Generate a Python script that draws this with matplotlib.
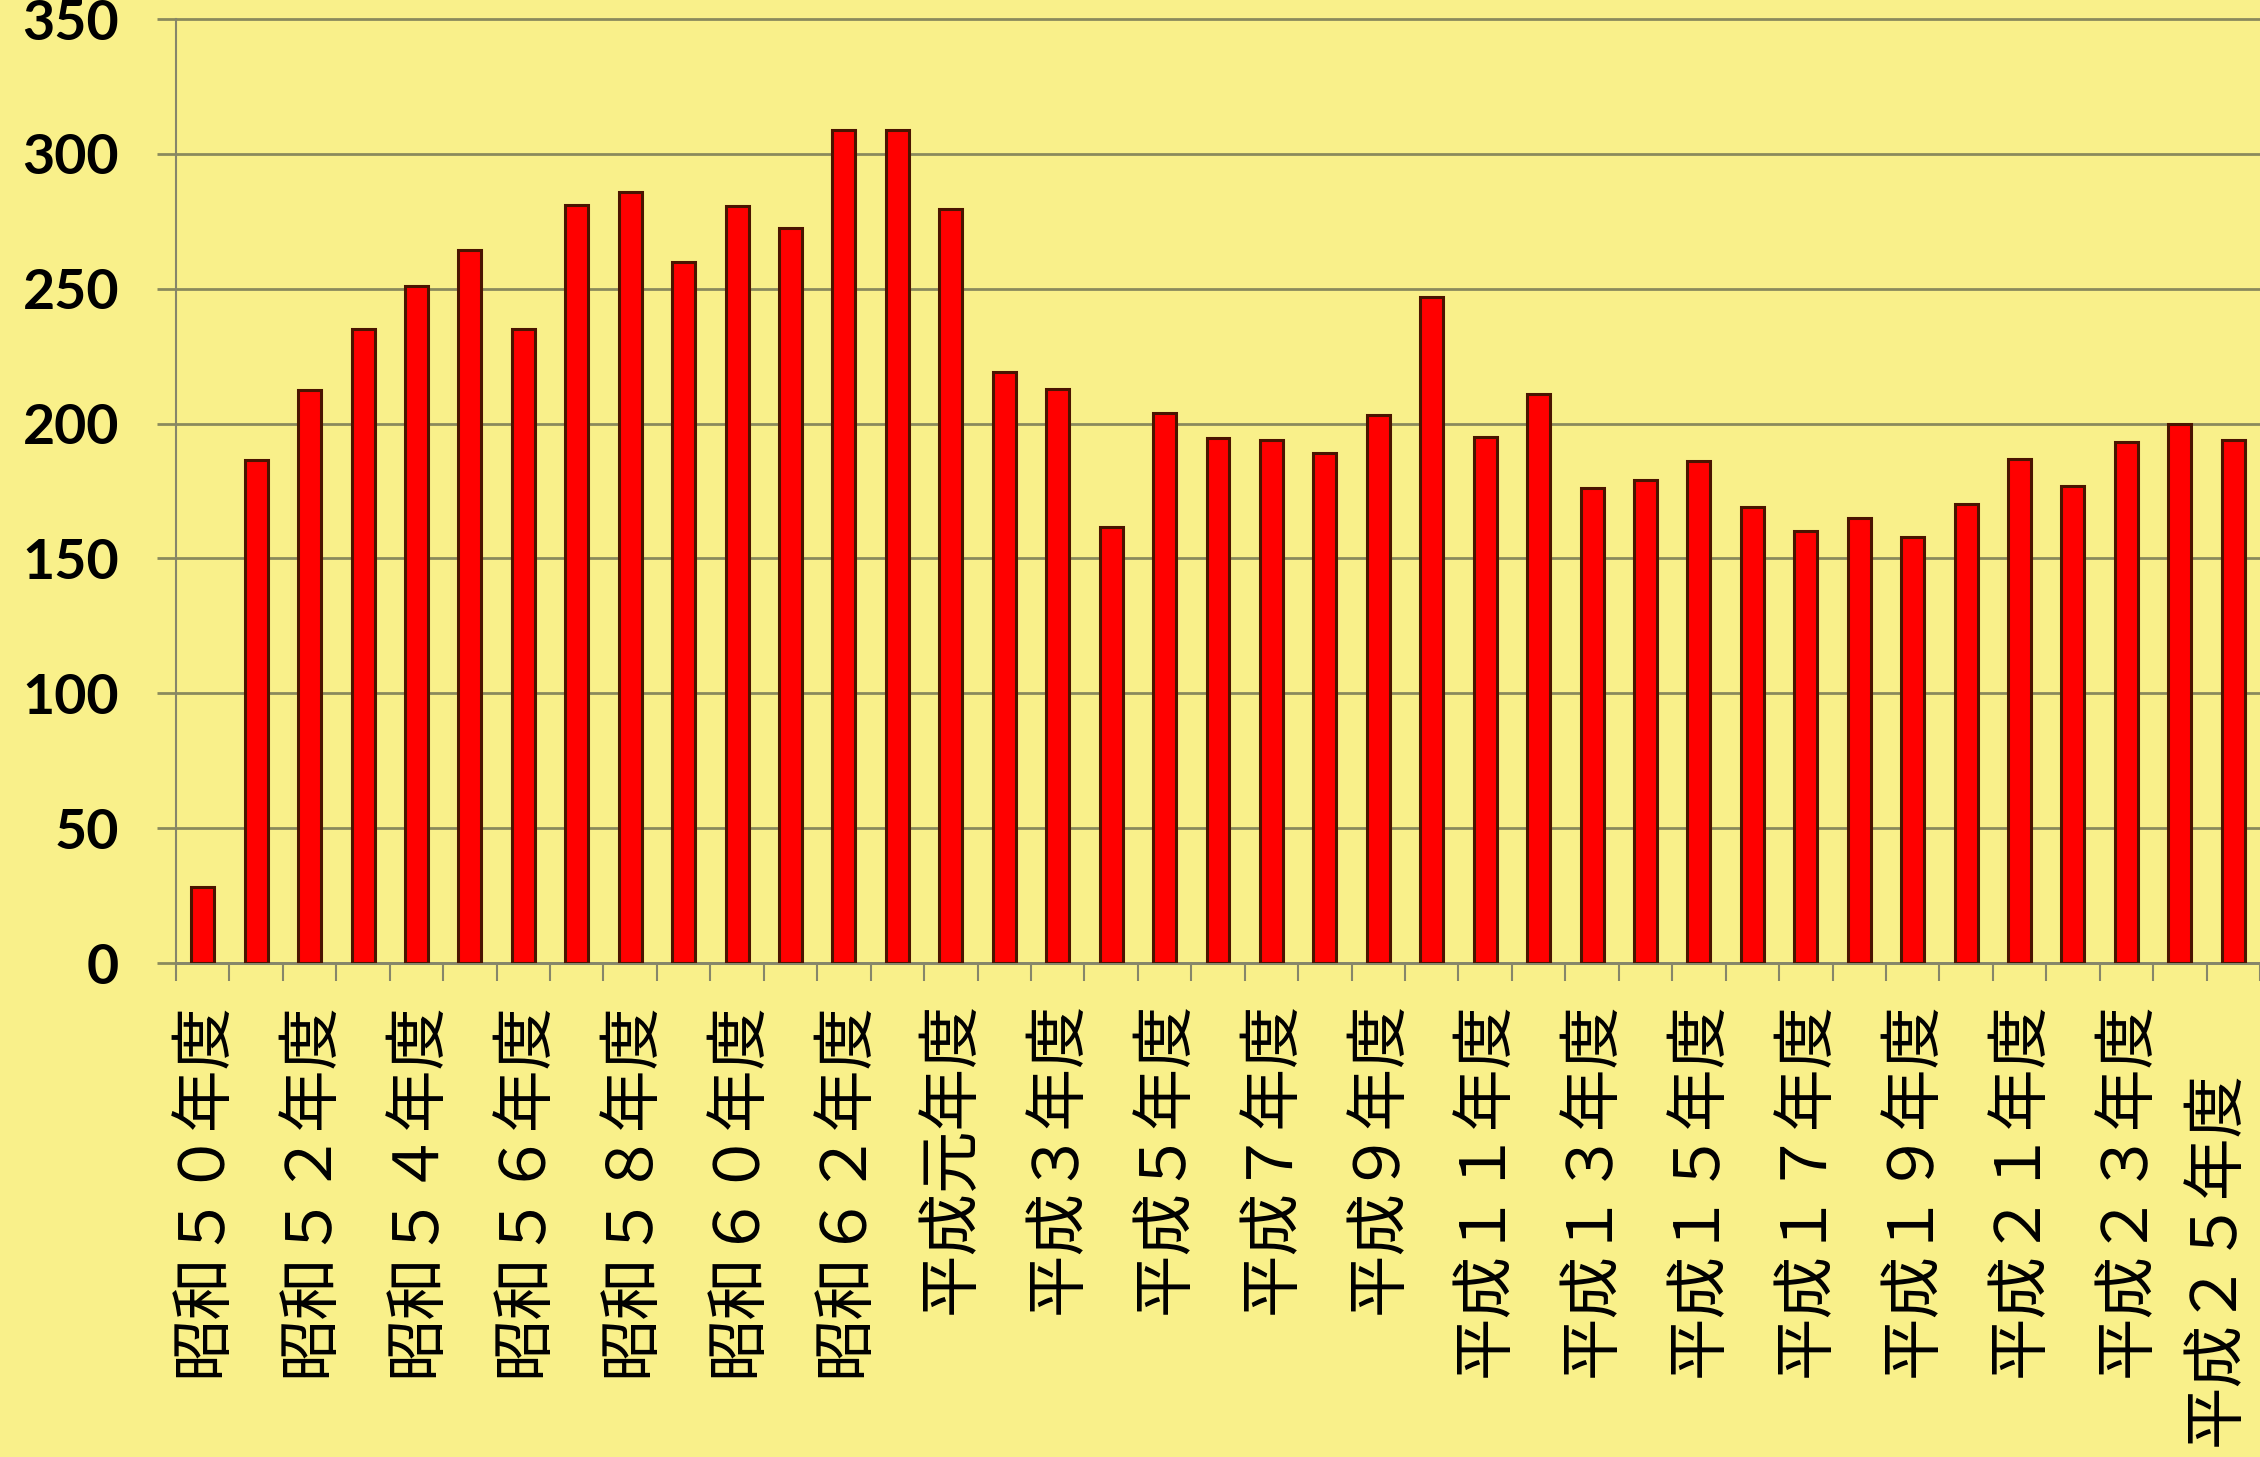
import numpy as np
import matplotlib
matplotlib.use("Agg")
import matplotlib.pyplot as plt
import matplotlib.transforms as mtransforms

# fiscal years (昭和50 .. 平成25), full-width digits as in the original slide
years = [
    "昭和５０年度", "昭和５１年度", "昭和５２年度", "昭和５３年度", "昭和５４年度",
    "昭和５５年度", "昭和５６年度", "昭和５７年度", "昭和５８年度", "昭和５９年度",
    "昭和６０年度", "昭和６１年度", "昭和６２年度", "昭和６３年度",
    "平成元年度", "平成２年度", "平成３年度", "平成４年度", "平成５年度",
    "平成６年度", "平成７年度", "平成８年度", "平成９年度", "平成１０年度",
    "平成１１年度", "平成１２年度", "平成１３年度", "平成１４年度", "平成１５年度",
    "平成１６年度", "平成１７年度", "平成１８年度", "平成１９年度", "平成２０年度",
    "平成２１年度", "平成２２年度", "平成２３年度", "平成２４年度", "平成２５年度",
]
counts = [
    28, 186.5, 212.5, 235, 251, 264.5, 235, 281, 286, 260,
    280.5, 272.5, 309, 309, 279.5, 219, 213, 161.5, 204, 194.5,
    194, 189, 203, 247, 195, 211, 176, 179, 186, 169,
    160, 165, 158, 170, 187, 177, 193, 200, 194,
]
yticks = [0, 50, 100, 150, 200, 250, 300, 350]

BG = "#f9f08a"
GRID = "#8a8a5c"
AXIS = "#86866a"

fig = plt.figure(figsize=(22.6, 14.57), dpi=100, facecolor=BG)
W, H = 2260, 1457
ax = fig.add_axes([176 / W, 1 - 963 / H, 1 - 176 / W, (963 - 19) / H])
ax.set_facecolor("none")

x = np.arange(len(counts))
ax.bar(x, counts, width=0.43, color="#ff0000", edgecolor="#4a1400",
       linewidth=2.2, zorder=3)

ax.set_xlim(-0.5, len(counts) - 0.5)
ax.set_ylim(0, 350)

# y axis
ax.set_yticks(yticks)
ax.yaxis.grid(True, color=GRID, linewidth=2)
ax.set_axisbelow(True)
for gl in ax.yaxis.get_gridlines():
    gl.set_clip_on(False)
ax.tick_params(axis="y", length=14, width=2, color=GRID, pad=27, labelsize=40)
for lab in ax.get_yticklabels():
    lab.set_fontfamily("Lato")
    lab.set_fontweight("bold")

# x axis: labels on every other year, tick marks between categories
ax.set_xticks(x[::2])
ax.set_xticklabels(years[::2], rotation=90, fontsize=45,
                   family=["Noto Sans CJK JP", "DejaVu Sans"])
ax.set_xticks(np.arange(-0.5, len(counts)), minor=True)
ax.tick_params(axis="x", which="major", length=0, pad=28)
ax.tick_params(axis="x", which="minor", length=13, width=1.5, color=AXIS)

# the last label sits lower and a little left on the slide, inside the edge
last = ax.get_xticklabels()[-1]
last.set_transform(last.get_transform()
                   + mtransforms.ScaledTranslation(-0.18, -0.69, fig.dpi_scale_trans))

for side in ["top", "right"]:
    ax.spines[side].set_visible(False)
ax.spines["left"].set_color(AXIS)
ax.spines["left"].set_linewidth(1.5)
ax.spines["bottom"].set_color(AXIS)
ax.spines["bottom"].set_linewidth(2)

fig.savefig("out.png", dpi=100, facecolor=BG)
